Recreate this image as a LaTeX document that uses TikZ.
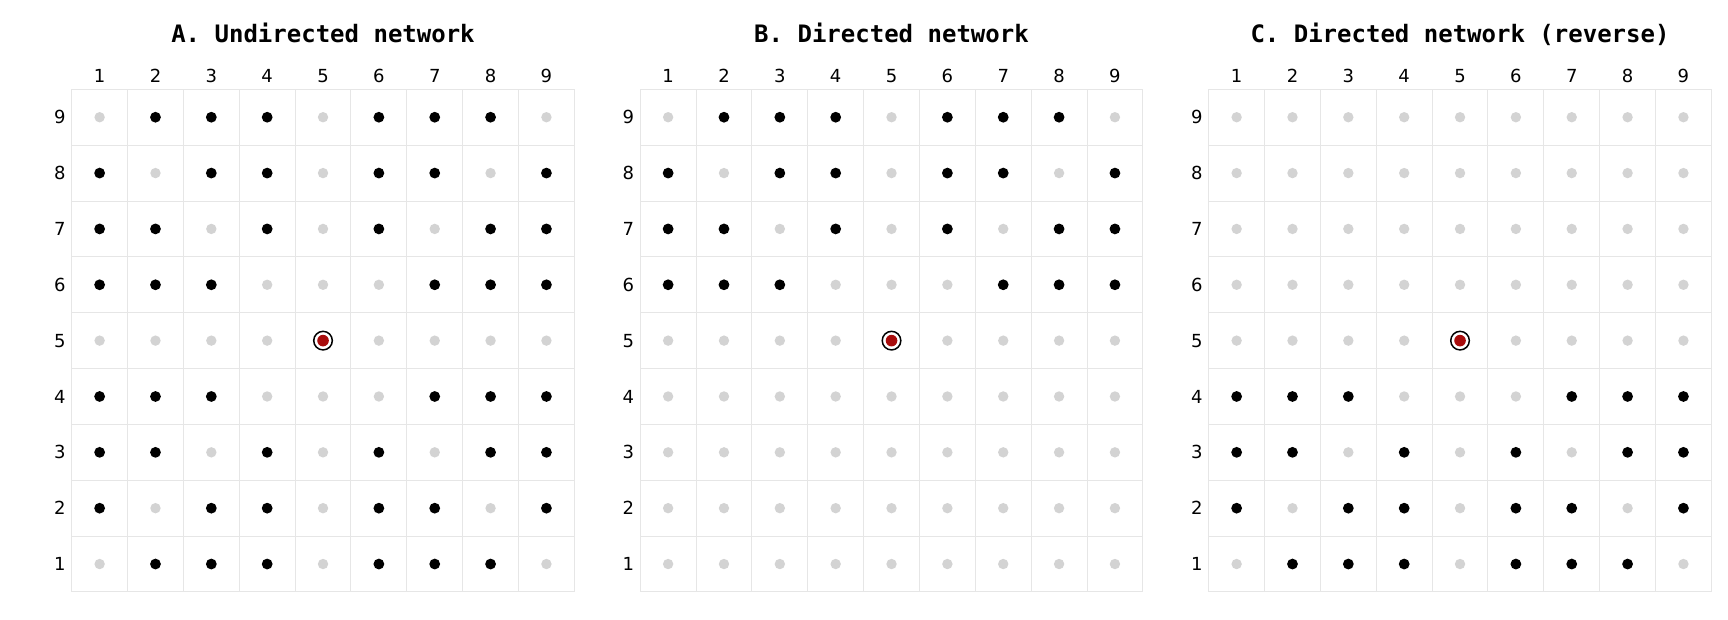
\documentclass[tikz,border=0pt]{standalone}
\usepackage{fontspec}
\setmainfont{DejaVu Sans}
\newfontfamily\titlefont{DejaVu Sans Mono}
\definecolor{gridc}{HTML}{E6E6E6}
\definecolor{offc}{HTML}{D3D3D3}
\definecolor{focalc}{HTML}{A80C0C}
\begin{document}
\begin{tikzpicture}[x=1pt,y=-1pt,
  gridline/.style={draw=gridc, line width=1pt},
  ondot/.style={circle, fill=black, minimum size=10.8pt, inner sep=0pt},
  offdot/.style={circle, fill=offc, minimum size=10.4pt, inner sep=0pt},
  focaldot/.style={circle, fill=focalc, minimum size=11.6pt, inner sep=0pt},
  focalring/.style={circle, draw=black, line width=1.5pt, minimum size=18.6pt, inner sep=0pt},
  ticklabel/.style={font=\fontsize{18}{18}\selectfont, inner sep=0pt},
  paneltitle/.style={font=\titlefont\bfseries\fontsize{24}{24}\selectfont, inner sep=0pt, anchor=base}]
\useasboundingbox (0,0) rectangle (1728,619);
\def\cs{55.85}
\def\gy{89.3}
% titles
\node[paneltitle] (titleA) at (71.7+251.3, 42.7) {A. Undirected network};
\node[paneltitle] (titleB) at (640.2+251.3, 42.7) {B. Directed network};
\node[paneltitle] (titleC) at (1208.7+251.3, 42.7) {C. Directed network (reverse)};
\foreach \p/\L in {0/A,1/B,2/C} {
  \pgfmathsetmacro\gx{71.7+568.5*\p}
  % grid lines
  \foreach \i in {0,...,9} {
    \draw[gridline] (\gx+\i*\cs, \gy) -- (\gx+\i*\cs, \gy+9*\cs);
    \draw[gridline] (\gx, \gy+\i*\cs) -- (\gx+9*\cs, \gy+\i*\cs);
  }
  % labels
  \foreach \k in {1,...,9} {
    \node[ticklabel, anchor=base] (col\L\k) at (\gx+\k*\cs-0.5*\cs, 82.7) {\k};
    \node[ticklabel, anchor=east] (row\L\k) at (\gx-6, \gy+9.5*\cs-\k*\cs) {\k};
  }
  % dots
  \foreach \c in {1,...,9} {
    \foreach \r in {1,...,9} {
      \pgfmathtruncatemacro\dx{\c-5}
      \pgfmathtruncatemacro\dy{\r-5}
      \pgfmathtruncatemacro\vis{(\dx!=0)*(\dy!=0)*(abs(\dx)!=abs(\dy))}
      \pgfmathtruncatemacro\side{(\p==0)+(\p==1)*(\dy>0)+(\p==2)*(\dy<0)}
      \pgfmathtruncatemacro\isfoc{(\dx==0)*(\dy==0)}
      \coordinate (pos\L-\c-\r) at (\gx+\c*\cs-0.5*\cs, \gy+9.5*\cs-\r*\cs);
      \ifnum\isfoc=1
        \node[focalring] (ring\L) at (pos\L-\c-\r) {};
        \node[focaldot] (dot\L-\c-\r) at (pos\L-\c-\r) {};
      \else
        \ifnum\vis\side>10
          \node[ondot] (dot\L-\c-\r) at (pos\L-\c-\r) {};
        \else
          \node[offdot] (dot\L-\c-\r) at (pos\L-\c-\r) {};
        \fi
      \fi
    }
  }
}
\end{tikzpicture}
\end{document}
